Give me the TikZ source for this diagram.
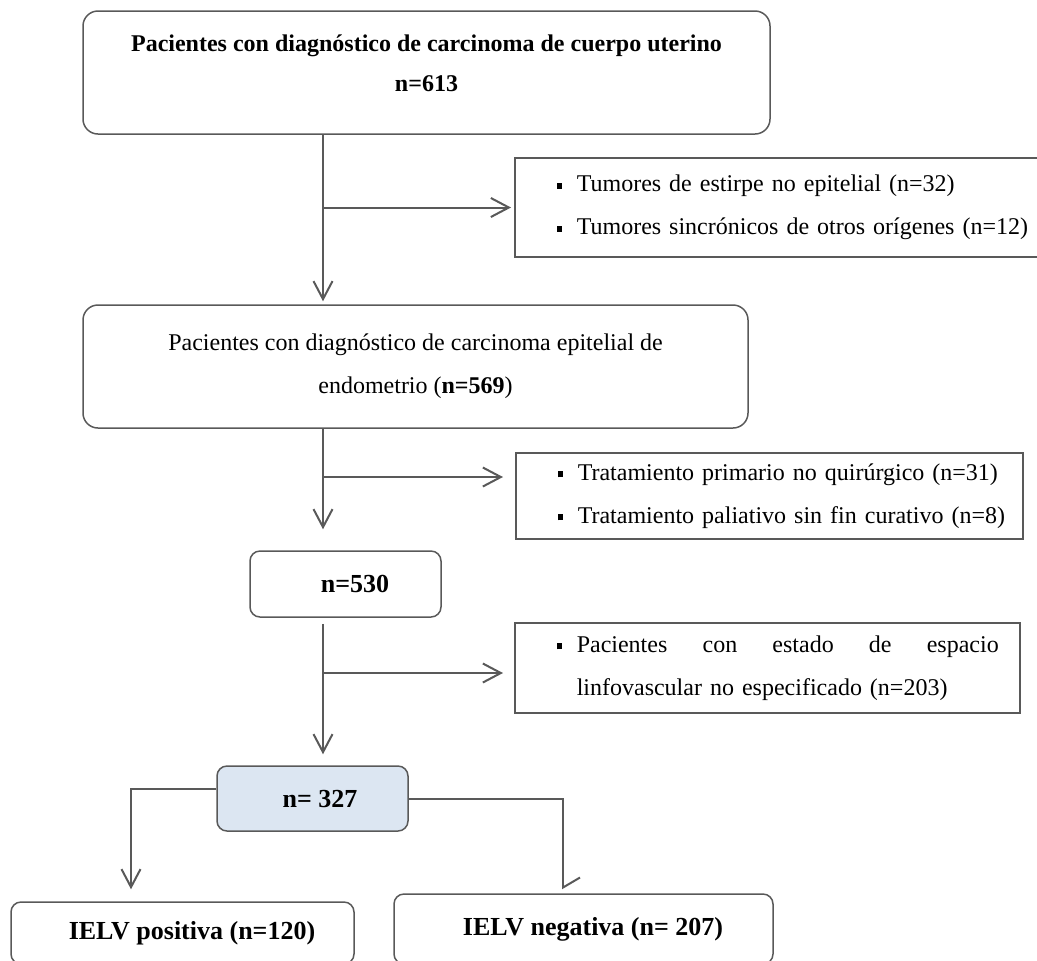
\documentclass[tikz,border=0pt]{standalone}
\usepackage{fontspec}
\setmainfont{Liberation Serif}
\usetikzlibrary{arrows.meta, positioning}

\definecolor{gris}{HTML}{595959}
\definecolor{celeste}{HTML}{DCE6F2}
\newcommand{\vineta}{\rule[1.5pt]{2.5pt}{3pt}\hspace{7.5pt}}

\begin{document}
\begin{tikzpicture}[x=0.5pt, y=-0.5pt, >={Straight Barb[length=9pt,width=9.5pt]},
  caja/.style={draw=gris, line width=0.75pt, rounded corners=7.5pt, align=center,
    font=\fontsize{12}{21.5}\selectfont},
  cajita/.style={draw=gris, line width=0.75pt, rounded corners=5pt, align=center,
    font=\fontsize{13}{15}\selectfont\bfseries},
  exclusion/.style={draw=gris, line width=0.75pt, align=left, inner xsep=21pt,
    anchor=west, text width=#1, font=\fontsize{12}{21.5}\selectfont},
  flecha/.style={->, draw=gris, line width=1pt}]
  \useasboundingbox (0,0) rectangle (1037,960);

  % Definir las cajas principales
  \node[caja] (inicio) [minimum width=343.5pt, minimum height=61.5pt, inner sep=0pt,
    font=\fontsize{12}{20}\selectfont] at (426.5,72.5)
    {\begin{tabular}{@{}c@{}}
       \textbf{Pacientes con diagnóstico de carcinoma de cuerpo uterino}\\
       \textbf{n=613}\\[9.5pt]
     \end{tabular}};
  \node[caja] (epitelial) [minimum width=332.5pt, minimum height=61.5pt] at (415.5,366.5)
    {Pacientes con diagnóstico de carcinoma epitelial de\\endometrio (\textbf{n=569})};
  \node[cajita] (n530) [minimum width=95.5pt, minimum height=33pt] at (345.5,584)
    {\hspace*{9.5pt}n=530};
  \node[cajita, fill=celeste] (n327) [minimum width=95.5pt, minimum height=32.5pt] at (312.5,798.5)
    {\hspace*{7.5pt}n= 327};
  \node[cajita] (positiva) [minimum width=171.5pt, minimum height=31pt] at (182.5,933)
    {\hspace*{9.5pt}IELV positiva (n=120)};
  \node[cajita] (negativa) [minimum width=189.5pt, minimum height=35pt] at (583.5,929)
    {\hspace*{9.5pt}IELV negativa (n= 207)};

  % Definir las cajas de exclusion
  \node[exclusion=231pt] (excl1) [minimum height=49.5pt] at (514,207.5)
    {\mbox{\vineta Tumores de estirpe no epitelial (n=32)}\\
     \mbox{\vineta Tumores sincrónicos de otros orígenes (n=12)}};
  \node[exclusion=211.5pt] (excl2) [minimum height=43pt] at (515,496)
    {\mbox{\vineta Tratamiento primario no quirúrgico (n=31)}\\
     \mbox{\vineta Tratamiento paliativo sin fin curativo (n=8)}};
  \node[exclusion=210.5pt] (excl3) [minimum height=45pt] at (514,668)
    {\hbox to 221pt{\vineta Pacientes\hfill con\hfill estado\hfill de\hfill espacio}\\
     \hspace*{10pt}\mbox{linfovascular no especificado (n=203)}};

  % Coordenadas auxiliares
  \coordinate (eje) at (323,0);
  \coordinate (izq) at (131,0);
  \coordinate (der) at (563,0);
  \coordinate (c2) at (323,477);
  \coordinate (c3) at (323,673);

  % Dibujar las flechas
  \draw[flecha, shorten >=1.5pt] (inicio.south -| eje) -- (epitelial.north -| eje);
  \draw[flecha, shorten >=1.5pt] (excl1.west -| eje) -- (excl1.west);
  \draw[flecha, shorten >=10.5pt] (epitelial.south -| eje) -- (n530.north -| eje);
  \draw[flecha, shorten >=6pt] (c2) -- (c2 -| excl2.west);
  \draw[flecha, shorten <=3pt, shorten >=5.5pt] (n530.south -| eje) -- (n327.north -| eje);
  \draw[flecha, shorten >=5.5pt] (c3) -- (c3 -| excl3.west);
  \draw[flecha, shorten >=6pt] ([yshift=4.75pt]n327.west) -| (positiva.north -| izq);
  \draw[flecha, -{Straight Barb[left,length=5pt,width=17pt]}, shorten >=2pt]
    (n327.east) -| (negativa.north -| der);
\end{tikzpicture}
\end{document}
